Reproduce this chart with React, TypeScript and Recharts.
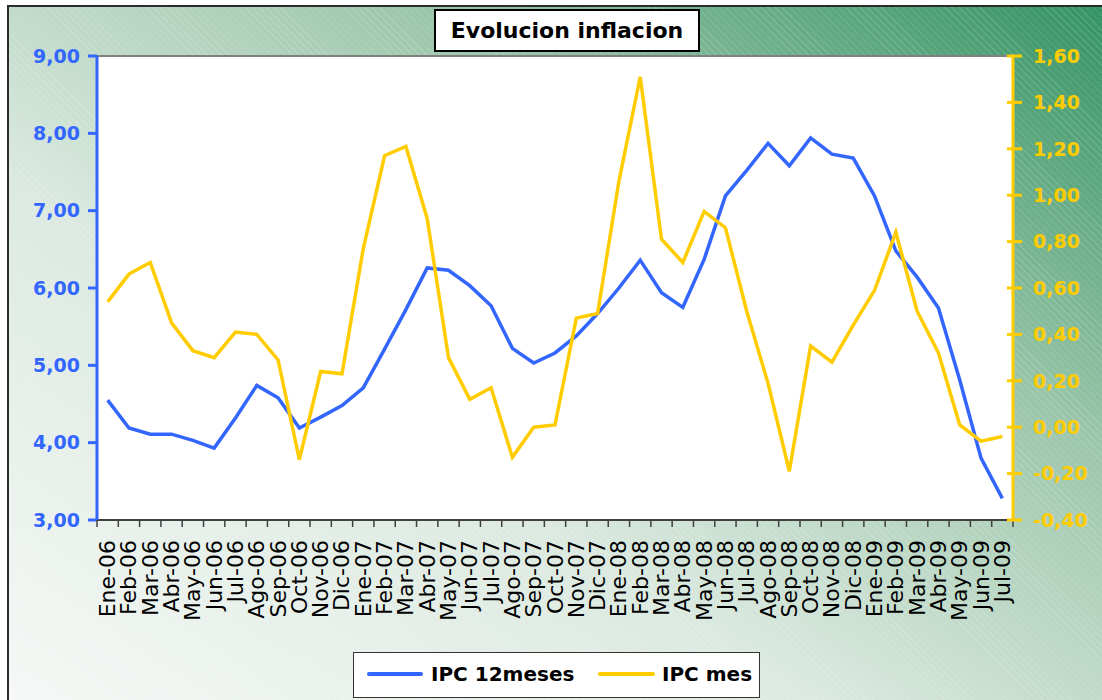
import React from 'react';
import { LineChart, Line, XAxis, YAxis, CartesianGrid, Legend, ReferenceLine } from 'recharts';

const months = [
  'Ene-06', 'Feb-06', 'Mar-06', 'Abr-06', 'May-06', 'Jun-06', 'Jul-06', 'Ago-06', 'Sep-06', 'Oct-06', 'Nov-06', 'Dic-06',
  'Ene-07', 'Feb-07', 'Mar-07', 'Abr-07', 'May-07', 'Jun-07', 'Jul-07', 'Ago-07', 'Sep-07', 'Oct-07', 'Nov-07', 'Dic-07',
  'Ene-08', 'Feb-08', 'Mar-08', 'Abr-08', 'May-08', 'Jun-08', 'Jul-08', 'Ago-08', 'Sep-08', 'Oct-08', 'Nov-08', 'Dic-08',
  'Ene-09', 'Feb-09', 'Mar-09', 'Abr-09', 'May-09', 'Jun-09', 'Jul-09',
];

const ipc12meses = [
  4.55, 4.19, 4.11, 4.11, 4.03, 3.93, 4.32, 4.74, 4.58, 4.19, 4.33, 4.48,
  4.71, 5.21, 5.72, 6.26, 6.23, 6.03, 5.77, 5.22, 5.03, 5.16, 5.38, 5.67,
  6.0, 6.36, 5.94, 5.75, 6.37, 7.19, 7.52, 7.87, 7.58, 7.94, 7.73, 7.68,
  7.19, 6.48, 6.14, 5.74, 4.81, 3.8, 3.28,
];

const ipcMes = [
  0.54, 0.66, 0.71, 0.45, 0.33, 0.30, 0.41, 0.40, 0.29, -0.14, 0.24, 0.23,
  0.77, 1.17, 1.21, 0.90, 0.30, 0.12, 0.17, -0.13, 0.0, 0.01, 0.47, 0.49,
  1.06, 1.51, 0.81, 0.71, 0.93, 0.86, 0.50, 0.19, -0.19, 0.35, 0.28, 0.44,
  0.59, 0.84, 0.50, 0.32, 0.01, -0.06, -0.04,
];

const leftTicks = [3, 4, 5, 6, 7, 8, 9];
const rightTicks = [-0.4, -0.2, 0, 0.2, 0.4, 0.6, 0.8, 1.0, 1.2, 1.4, 1.6];

const seriesNames = ['IPC 12meses', 'IPC mes'];
const titleText = 'Evolucion inflacion';

const data = months.map((m, i) => ({ month: m, ipc12: ipc12meses[i], mes: ipcMes[i] }));

const BLUE = '#3366FF';
const YELLOW = '#FFCC00';
const FONT = '"DejaVu Sans", Verdana, sans-serif';

const W = 1102;
const H = 700;
const LEFT_W = 97;
const RIGHT_W = 89;
const PLOT_W = W - LEFT_W - RIGHT_W;
const HALF = PLOT_W / months.length / 2;

const fmt = (v: number) => v.toFixed(2).replace('.', ',');

const XTick = (props: any) => {
  const { x, y, payload, index } = props;
  const axisY = y - 20;
  return (
    <g>
      <line x1={x - HALF} x2={x - HALF} y1={axisY} y2={axisY + 7} stroke="#404040" strokeWidth={1.5} />
      {index === months.length - 1 && (
        <line x1={x + HALF} x2={x + HALF} y1={axisY} y2={axisY + 7} stroke="#404040" strokeWidth={1.5} />
      )}
      <text
        x={x}
        y={y}
        transform={`rotate(-90, ${x}, ${y})`}
        textAnchor="end"
        dominantBaseline="central"
        fontFamily={FONT}
        fontSize={22}
        fill="#000"
      >
        {payload.value}
      </text>
    </g>
  );
};

const RightTick = (props: any) => {
  const { x, y, payload } = props;
  const axisX = x - 20;
  return (
    <g>
      <line x1={axisX - 6} x2={axisX + 9} y1={y} y2={y} stroke={YELLOW} strokeWidth={3} />
      <text x={x} y={y} dy="0.36em" textAnchor="start" fontFamily={FONT} fontWeight="bold" fontSize={19} fill={YELLOW}>
        {fmt(payload.value)}
      </text>
    </g>
  );
};

const LegendBox = () => (
  <div
    style={{
      width: 407,
      height: 46,
      boxSizing: 'border-box',
      background: '#fff',
      border: '1.5px solid #333',
      position: 'relative',
      fontFamily: FONT,
      fontWeight: 'bold',
      fontSize: 20,
      color: '#000',
    }}
  >
    <div style={{ position: 'absolute', left: 13, top: 19, width: 56, height: 4, background: BLUE, borderRadius: 2 }} />
    <div style={{ position: 'absolute', left: 77, top: 9, lineHeight: '24px', whiteSpace: 'nowrap' }}>{seriesNames[0]}</div>
    <div style={{ position: 'absolute', left: 244, top: 19, width: 57, height: 4, background: YELLOW, borderRadius: 2 }} />
    <div style={{ position: 'absolute', left: 308, top: 9, lineHeight: '24px', whiteSpace: 'nowrap' }}>{seriesNames[1]}</div>
  </div>
);

export default function App() {
  return (
    <div style={{ position: 'absolute', left: 0, top: 0, width: W, height: H, overflow: 'hidden', background: '#fff' }}>
      <div
        style={{
          position: 'absolute',
          left: 7,
          top: 5,
          width: W + 20,
          height: H + 20,
          border: '2px solid #2b2b2b',
          backgroundImage:
            'repeating-linear-gradient(45deg, rgba(255,255,255,0.13) 0px, rgba(255,255,255,0.13) 1px, rgba(255,255,255,0) 1px, rgba(255,255,255,0) 5px), linear-gradient(to top right, #f7f9f7 0%, #dbe9e0 38%, #9cc6ab 68%, #2f9160 100%)',
        }}
      />
      <div style={{ position: 'absolute', left: 0, top: 0 }}>
        <LineChart width={W} height={H} data={data} margin={{ top: 56, right: 0, bottom: 0, left: 0 }}>
          <CartesianGrid yAxisId="left" horizontal={false} vertical={false} fill="#ffffff" />
          <XAxis
            dataKey="month"
            height={180}
            interval={0}
            padding={{ left: HALF, right: HALF }}
            axisLine={{ stroke: '#404040', strokeWidth: 2 }}
            tickLine={false}
            tickSize={7}
            tickMargin={13}
            tick={<XTick />}
          />
          <YAxis
            yAxisId="left"
            width={LEFT_W}
            domain={[3, 9]}
            ticks={leftTicks}
            interval={0}
            tickFormatter={fmt}
            axisLine={{ stroke: BLUE, strokeWidth: 3 }}
            tickLine={{ stroke: BLUE, strokeWidth: 3 }}
            tickSize={9}
            tickMargin={8}
            tick={{ fill: BLUE, fontFamily: FONT, fontWeight: 'bold', fontSize: 19 }}
          />
          <YAxis
            yAxisId="right"
            orientation="right"
            width={RIGHT_W}
            domain={[-0.4, 1.6]}
            ticks={rightTicks}
            interval={0}
            axisLine={{ stroke: YELLOW, strokeWidth: 3 }}
            tickLine={false}
            tickSize={9}
            tickMargin={11}
            tick={<RightTick />}
          />
          <ReferenceLine yAxisId="left" y={9} stroke="#808080" strokeWidth={2} />
          <Line
            yAxisId="left"
            type="linear"
            dataKey="ipc12"
            name={seriesNames[0]}
            stroke={BLUE}
            strokeWidth={3.5}
            dot={false}
            isAnimationActive={false}
          />
          <Line
            yAxisId="right"
            type="linear"
            dataKey="mes"
            name={seriesNames[1]}
            stroke={YELLOW}
            strokeWidth={3.5}
            dot={false}
            isAnimationActive={false}
          />
          <Legend
            layout="horizontal"
            verticalAlign="middle"
            align="center"
            content={<LegendBox />}
            wrapperStyle={{ position: 'absolute', left: 353, top: 652, width: 407, height: 46 }}
          />
        </LineChart>
      </div>
      <div
        style={{
          position: 'absolute',
          left: 434,
          top: 9,
          width: 266,
          height: 43,
          boxSizing: 'border-box',
          background: '#fff',
          border: '2px solid #000',
          fontFamily: FONT,
          fontWeight: 'bold',
          fontSize: 22,
          lineHeight: '39px',
          textAlign: 'center',
          color: '#000',
          whiteSpace: 'nowrap',
        }}
      >
        {titleText}
      </div>
    </div>
  );
}
